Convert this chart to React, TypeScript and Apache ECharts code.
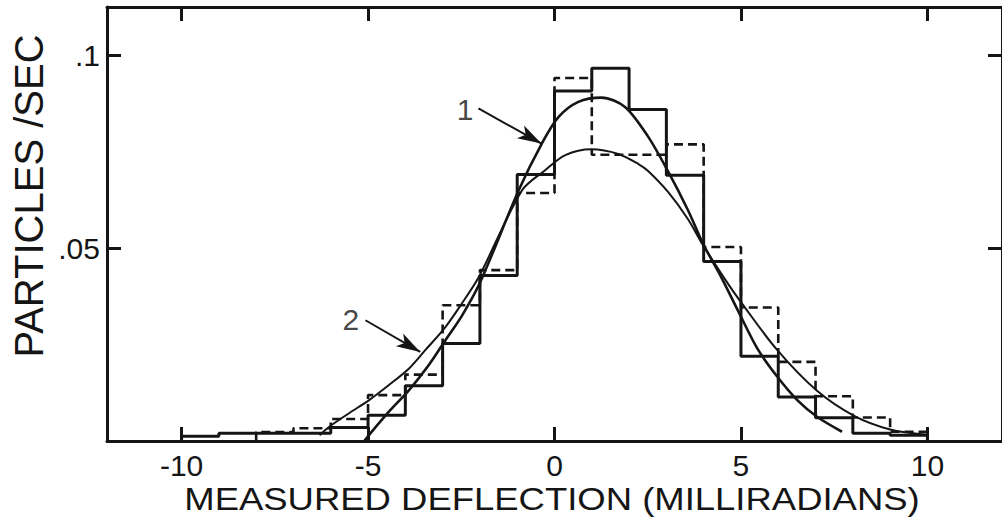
import React, { useEffect, useRef } from "react";
import * as echarts from "echarts";

// ---- data ----
const binWidth = 1;
const solidBinStarts = [-10, -9, -8, -7, -6, -5, -4, -3, -2, -1, 0, 1, 2, 3, 4, 5, 6, 7, 8, 9];
const solidRates = [0.0012, 0.002, 0.002, 0.002, 0.0035, 0.0067, 0.0143, 0.0253, 0.0429, 0.0691, 0.0907, 0.0966, 0.0859, 0.0689, 0.0465, 0.022, 0.0114, 0.006, 0.002, 0.0015];
const dashedBinStarts = [-8, -7, -6, -5, -4, -3, -2, -1, 0, 1, 2, 3, 4, 5, 6, 7, 8, 9];
const dashedRates = [0.0023, 0.0033, 0.0057, 0.0119, 0.0172, 0.0352, 0.0443, 0.0643, 0.0941, 0.0742, 0.0742, 0.0769, 0.0503, 0.0346, 0.0205, 0.0116, 0.0061, 0.0024];

const curve1X = [-5.1, -4.97, -4.44, -3.9, -3.37, -2.92, -2.48, -2.0, -0.96, -0.34, 0.11, 0.64, 1.26, 1.89, 2.51, 3.05, 3.58, 3.98, 4.47, 4.91, 5.45, 5.97, 6.51, 7.04, 7.71];
const curve1Y = [0.0, 0.0016, 0.0076, 0.0132, 0.0197, 0.0262, 0.0325, 0.041, 0.065, 0.0771, 0.084, 0.0879, 0.089, 0.0866, 0.0789, 0.0698, 0.0598, 0.0512, 0.0425, 0.034, 0.0238, 0.0167, 0.0106, 0.0063, 0.0024];
const curve2X = [-6.3, -6.04, -5.51, -4.97, -4.44, -3.9, -3.46, -2.92, -2.48, -2.03, -0.87, -0.25, 0.29, 0.99, 1.71, 2.25, 2.51, 3.05, 3.58, 3.98, 4.65, 5.0, 5.97, 7.04, 8.02, 9.0, 9.99];
const curve2Y = [0.0015, 0.0037, 0.0072, 0.0106, 0.0145, 0.0188, 0.0236, 0.0296, 0.0357, 0.0425, 0.065, 0.0702, 0.0741, 0.0756, 0.0744, 0.0718, 0.07, 0.0645, 0.0575, 0.0508, 0.0408, 0.036, 0.0236, 0.013, 0.0066, 0.003, 0.0016];

const xTicks = [-10, -5, 0, 5, 10];
const xTickLabels = ["-10", "-5", "0", "5", "10"];
const yTicks = [0.05, 0.1];
const yTickLabels = [".05", ".1"];

const curveNames = ["1", "2"];
const labelPos = [[-2.4, 0.086], [-5.46, 0.0316]];
const arrowFrom = [[-2.04, 0.0862], [-5.07, 0.0313]];
const arrowTo = [[-0.35, 0.0771], [-3.6, 0.0231]];

const xTitle = "MEASURED DEFLECTION (MILLIRADIANS)";
const yTitle = "PARTICLES /SEC";

function stepPoints(starts: number[], vals: number[]) {
  const pts: number[][] = [[starts[0], 0]];
  starts.forEach((s, i) => pts.push([s, vals[i]]));
  pts.push([starts[starts.length - 1] + binWidth, 0]);
  return pts;
}

const INK = "#151515";
const FONT = "'Liberation Sans', Arial, sans-serif";

export default function App() {
  const ref = useRef<HTMLDivElement>(null);
  useEffect(() => {
    if (!ref.current) return;
    const chart = echarts.init(ref.current, undefined, { renderer: "svg" });
    const axisLine = { show: true, onZero: false, lineStyle: { color: INK, width: 3 } };
    const tick = (vals: number[]) => ({
      show: true,
      inside: true,
      length: 14,
      customValues: vals,
      lineStyle: { color: INK, width: 3 },
    });
    const xLabel = (v: number) => {
      const i = xTicks.findIndex((t) => Math.abs(t - v) < 1e-9);
      return i >= 0 ? xTickLabels[i] : "";
    };
    const yLabel = (v: number) => {
      const i = yTicks.findIndex((t) => Math.abs(t - v) < 1e-9);
      return i >= 0 ? yTickLabels[i] : "";
    };
    chart.setOption({
      animation: false,
      backgroundColor: "#ffffff",
      grid: { left: 107, right: -4, top: 7, bottom: 76, containLabel: false },
      xAxis: [
        {
          type: "value",
          min: -12,
          max: 12,
          position: "bottom",
          axisLine,
          axisTick: tick(xTicks),
          axisLabel: {
            customValues: xTicks,
            formatter: xLabel,
            fontFamily: FONT,
            fontSize: 30,
            color: INK,
            margin: 9,
          },
          splitLine: { show: false },
        },
        {
          type: "value",
          min: -12,
          max: 12,
          position: "top",
          axisLine,
          axisTick: tick(xTicks),
          axisLabel: { show: false },
          splitLine: { show: false },
        },
      ],
      yAxis: [
        {
          type: "value",
          min: 0,
          max: 0.1125,
          position: "left",
          axisLine,
          axisTick: tick(yTicks),
          axisLabel: {
            customValues: yTicks,
            formatter: yLabel,
            fontFamily: FONT,
            fontSize: 30,
            color: INK,
            margin: 7,
          },
          splitLine: { show: false },
        },
        {
          type: "value",
          min: 0,
          max: 0.1125,
          position: "right",
          axisLine,
          axisTick: tick(yTicks),
          axisLabel: { show: false },
          splitLine: { show: false },
        },
      ],
      graphic: [
        {
          type: "text",
          x: 552,
          y: 499,
          scaleX: 1.14,
          style: {
            text: xTitle,
            fontFamily: FONT,
            fontSize: 32,
            fill: INK,
            textAlign: "center",
            textVerticalAlign: "middle",
          },
        },
        {
          type: "text",
          x: 29,
          y: 196,
          rotation: Math.PI / 2,
          style: {
            text: yTitle,
            fontFamily: FONT,
            fontSize: 40,
            fill: INK,
            textAlign: "center",
            textVerticalAlign: "middle",
          },
        },
      ],
      series: [
        {
          name: "solid histogram",
          type: "line",
          step: "end",
          data: stepPoints(solidBinStarts, solidRates),
          symbol: "none",
          lineStyle: { color: INK, width: 3 },
          z: 3,
        },
        {
          name: "dashed histogram",
          type: "line",
          step: "end",
          data: stepPoints(dashedBinStarts, dashedRates),
          symbol: "none",
          lineStyle: { color: INK, width: 2.6, type: [9, 5] },
          z: 3,
        },
        {
          name: "curve 1",
          type: "line",
          smooth: 0.3,
          data: curve1X.map((x, i) => [x, curve1Y[i]]),
          symbol: "none",
          lineStyle: { color: INK, width: 2.6 },
          z: 4,
        },
        {
          name: "curve 2",
          type: "line",
          smooth: 0.3,
          data: curve2X.map((x, i) => [x, curve2Y[i]]),
          symbol: "none",
          lineStyle: { color: INK, width: 2 },
          z: 4,
        },
        {
          name: "labels",
          type: "scatter",
          symbolSize: 0,
          data: curveNames.map((n, i) => ({ name: n, value: labelPos[i] })),
          label: {
            show: true,
            position: "inside",
            formatter: "{b}",
            fontFamily: FONT,
            fontSize: 30,
            color: INK,
          },
          markLine: {
            silent: true,
            symbol: ["none", "arrow"],
            symbolSize: [11, 24],
            label: { show: false },
            lineStyle: { color: INK, width: 2, type: "solid" },
            data: curveNames.map((_, i) => [
              { coord: arrowFrom[i] },
              { coord: arrowTo[i] },
            ]),
          },
          z: 5,
        },
      ],
    });
    return () => chart.dispose();
  }, []);
  return (
    <div
      ref={ref}
      style={{ position: "absolute", left: 0, top: 0, width: 1002, height: 517, background: "#fff" }}
    />
  );
}
